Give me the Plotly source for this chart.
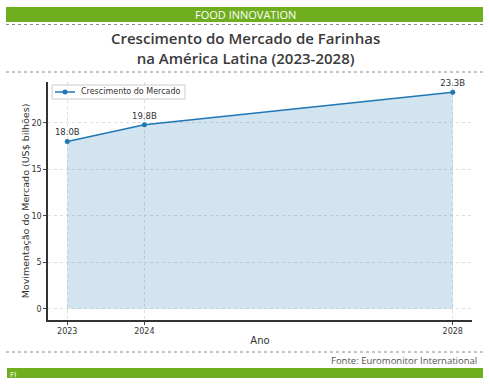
import plotly.graph_objects as go

years = [2023, 2024, 2028]
values = [18.0, 19.8, 23.3]
labels = ["18.0B", "19.8B", "23.3B"]
y_ticks = [0, 5, 10, 15, 20]
series_name = "Crescimento do Mercado"

GREEN = "#6fae1e"
BLUE = "#1f77b4"

fig = go.Figure()
fig.add_trace(go.Scatter(
    x=years, y=values, mode="lines+markers+text", name=series_name,
    line=dict(color=BLUE, width=1.5), marker=dict(size=5, color=BLUE),
    fill="tozeroy", fillcolor="rgba(31,119,180,0.2)", cliponaxis=False,
    text=labels, textposition="top center", textfont=dict(family="DejaVu Sans", size=8.5, color="#333333"),
    showlegend=False,
))

L, R, T, B = 48, 18, 82, 65
W, H = 490, 385

fig.update_layout(
    width=W, height=H,
    margin=dict(l=L, r=R, t=T, b=B),
    paper_bgcolor="white", plot_bgcolor="white",
    xaxis=dict(range=[2022.75, 2028.25], tickvals=years, ticktext=[str(y) for y in years],
               showgrid=True, gridcolor="#dddddd", griddash="dot", gridwidth=1,
               showline=True, linecolor="#333333", linewidth=1.5, ticks="outside", ticklen=3,
               tickfont=dict(family="DejaVu Sans", size=8, color="#333333"), zeroline=False,
               title=dict(text="Ano", font=dict(family="DejaVu Sans", size=10, color="#333333"), standoff=2)),
    yaxis=dict(range=[-1.2, 24.4], tickvals=y_ticks,
               showgrid=True, gridcolor="#dddddd", griddash="dot", gridwidth=1,
               showline=True, linecolor="#333333", linewidth=1.5, ticks="outside", ticklen=3,
               tickfont=dict(family="DejaVu Sans", size=8, color="#333333"), zeroline=False,
               title=dict(text="Movimentação do Mercado (US$ bilhões)",
                          font=dict(family="DejaVu Sans", size=9.5, color="#333333"), standoff=0)),
)

def px_x(x):
    return (x - L) / (W - L - R)
def px_y(y):
    return (H - B - y) / (H - T - B)

shapes = [
    dict(type="rect", xref="paper", yref="paper", x0=px_x(6), x1=px_x(483), y0=px_y(22), y1=px_y(7),
         fillcolor=GREEN, line=dict(width=0), layer="above"),
    dict(type="rect", xref="paper", yref="paper", x0=px_x(7), x1=px_x(483), y0=px_y(378), y1=px_y(368),
         fillcolor=GREEN, line=dict(width=0), layer="above"),
    dict(type="rect", xref="paper", yref="paper", x0=px_x(52), x1=px_x(185), y0=px_y(99), y1=px_y(85),
         fillcolor="rgba(255,255,255,0.9)", line=dict(color="#cccccc", width=1), layer="above"),
    dict(type="line", xref="paper", yref="paper", x0=px_x(55), x1=px_x(75), y0=px_y(92), y1=px_y(92),
         line=dict(color=BLUE, width=1.5), layer="above"),
    dict(type="circle", xref="paper", yref="paper", x0=px_x(62.5), x1=px_x(67.5), y0=px_y(94.5), y1=px_y(89.5),
         fillcolor=BLUE, line=dict(color=BLUE, width=0), layer="above"),
]
for yy in [24.5, 72, 352]:
    shapes.append(dict(type="line", xref="paper", yref="paper", x0=px_x(6), x1=px_x(483),
                       y0=px_y(yy), y1=px_y(yy), line=dict(color="#888888", width=1, dash="dot")))
fig.update_layout(shapes=shapes)

ann = [
    dict(text="FOOD INNOVATION", x=px_x(245), y=px_y(14.5), xanchor="center", yanchor="middle",
         font=dict(family="Open Sans", size=11, color="white")),
    dict(text="Crescimento do Mercado de Farinhas<br>na América Latina (2023-2028)",
         x=px_x(245), y=px_y(48), xanchor="center", yanchor="middle",
         font=dict(family="Open Sans", size=15, color="#3a3a3a", weight=600)),
    dict(text="Fonte: Euromonitor International", x=px_x(479), y=px_y(360), xanchor="right", yanchor="middle",
         font=dict(family="Open Sans", size=9.5, color="#555555")),
    dict(text="FI", x=px_x(8), y=px_y(373), xanchor="left", yanchor="middle",
         font=dict(family="Open Sans", size=8, color="white")),
    dict(text=series_name, x=px_x(79), y=px_y(92), xanchor="left", yanchor="middle",
         font=dict(family="DejaVu Sans", size=8, color="#333333")),
]
for a in ann:
    a.update(xref="paper", yref="paper", showarrow=False)
fig.update_layout(annotations=ann)

fig.write_html("out.html")
